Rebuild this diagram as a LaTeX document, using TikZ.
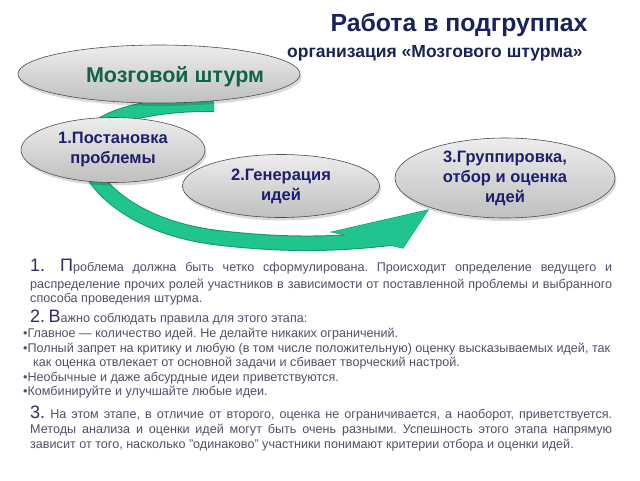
\documentclass[tikz,border=0pt]{standalone}
\usepackage{fontspec}
\setmainfont{Liberation Sans}
\usetikzlibrary{shapes.geometric,shadows}
\definecolor{titleblue}{RGB}{25,35,90}
\definecolor{nodeblue}{RGB}{30,30,110}
\definecolor{brainGreen}{RGB}{15,100,70}
\definecolor{bodytext}{RGB}{80,80,108}
\definecolor{numtext}{RGB}{45,45,95}
\definecolor{arrowgreen}{RGB}{32,196,142}
\definecolor{arrowedge}{RGB}{22,150,108}
\newcommand\bignum[1]{{\color{numtext}\fontsize{18}{18}\selectfont #1}}
\tikzset{
  oval/.style={ellipse, draw=black!70, line width=0.6pt, top color=white!93!black, bottom color=black!25,
    drop shadow={shadow xshift=1.5pt, shadow yshift=-3pt, opacity=0.15, fill=black}, inner sep=0pt, align=center},
  stagetext/.style={text=nodeblue, font=\bfseries\fontsize{16.5}{20}\selectfont},
  body/.style={text=bodytext, font=\fontsize{12.6}{14}\selectfont, inner sep=0pt, anchor=base west},
  band/.style={line width=#1, line cap=butt},
}
\begin{document}
\frenchspacing
\begin{tikzpicture}[x=1pt,y=-1pt]
\useasboundingbox[fill=white] (0,0) rectangle (640,480);
% titles
\node[text=titleblue, font=\bfseries\fontsize{24.8}{28}\selectfont, anchor=base] (title) at (459,31) {Работа в подгруппах};
\node[text=titleblue, font=\bfseries\fontsize{17.5}{20}\selectfont, anchor=base east] (subtitle) at (586,57) {организация «Мозгового штурма»};
% green arrow
\coordinate (g0) at (214,104);
\coordinate (g1) at (85,150);
\coordinate (g2) at (220,238);
\coordinate (g3) at (392,238);
\coordinate (hn) at (332,232);
\coordinate (ht) at (428,210);
\coordinate (hb) at (403,248);
\draw[band=15.5pt, arrowedge] (g0) .. controls (140,104) and (85,120) .. (g1) .. controls (85,180) and (130,228) .. (g2) .. controls (290,246) and (340,244) .. (g3);
\filldraw[arrowedge, line width=1pt, line join=miter] (hn) -- (ht) -- (hb) -- cycle;
\draw[band=13.5pt, arrowgreen] (g0) .. controls (140,104) and (85,120) .. (g1) .. controls (85,180) and (130,228) .. (g2) .. controls (290,246) and (340,244) .. (g3);
\fill[arrowgreen] (hn) -- (ht) -- (hb) -- cycle;
% ovals
\node[oval, minimum width=282pt, minimum height=58pt] (brain) at (159,74) {};
\node[text=brainGreen, font=\bfseries\fontsize{21.5}{24}\selectfont, inner sep=0pt] (brainlbl) at (175,77) {Мозговой штурм};
\node[oval, stagetext, minimum width=184pt, minimum height=65pt] (s1) at (113,150) {1.Постановка\\проблемы};
\node[oval, stagetext, minimum width=197pt, minimum height=63pt] (s2) at (281,186) {2.Генерация\\идей};
\node[oval, stagetext, minimum width=220pt, minimum height=80pt] (s3) at (505,178) {3.Группировка,\\отбор и оценка\\идей};
% section 1
\node[body] (t1a) at (30,271) {\makebox[582pt][s]{\bignum{1.}\hspace*{15pt}\bignum{П}роблема должна быть четко сформулирована. Происходит определение ведущего и}};
\node[body] (t1b) at (30,288) {\makebox[582pt][s]{распределение прочих ролей участников в зависимости от поставленной проблемы и выбранного}};
\node[body] (t1c) at (30,302) {способа проведения штурма.};
% section 2
\node[body] (t2h) at (30,322) {\bignum{2.} \bignum{В}ажно соблюдать правила для этого этапа:};
\node[body] (t2a) at (23,337) {•Главное — количество идей. Не делайте никаких ограничений.};
\node[body] (t2b) at (23,352) {•Полный запрет на критику и любую (в том числе положительную) оценку высказываемых идей, так};
\node[body] (t2c) at (33,366) {как оценка отвлекает от основной задачи и сбивает творческий настрой.};
\node[body] (t2d) at (23,381) {•Необычные и даже абсурдные идеи приветствуются.};
\node[body] (t2e) at (23,395) {•Комбинируйте и улучшайте любые идеи.};
% section 3
\node[body] (t3a) at (30,418) {\makebox[582pt][s]{\bignum{3.} На этом этапе, в отличие от второго, оценка не ограничивается, а наоборот, приветствуется.}};
\node[body] (t3b) at (30,433) {\makebox[582pt][s]{Методы анализа и оценки идей могут быть очень разными. Успешность этого этапа напрямую}};
\node[body] (t3c) at (30,448) {зависит от того, насколько "одинаково" участники понимают критерии отбора и оценки идей.};
\end{tikzpicture}
\end{document}
